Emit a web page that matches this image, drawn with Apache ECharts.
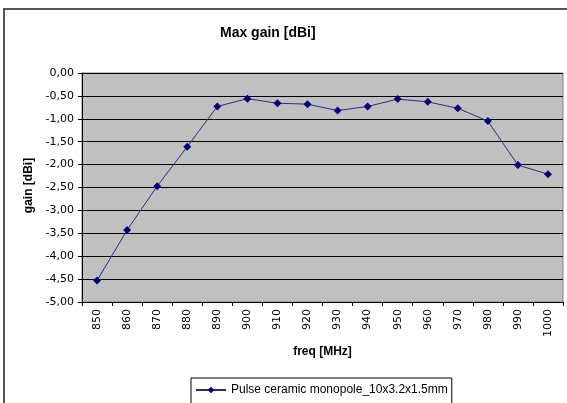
<!DOCTYPE html>
<html><head><meta charset="utf-8">
<script src="https://cdn.jsdelivr.net/npm/echarts@6/dist/echarts.min.js"></script>
<style>html,body{margin:0;padding:0;background:#fff}#c{width:567px;height:403px}</style>
</head><body><div id="c"></div>
<script>
const categories = ['850','860','870','880','890','900','910','920','930','940','950','960','970','980','990','1000'];
const gain = [-4.53,-3.43,-2.47,-1.61,-0.73,-0.56,-0.66,-0.68,-0.82,-0.73,-0.57,-0.63,-0.77,-1.05,-2.01,-2.21];
const seriesName = 'Pulse ceramic monopole_10x3.2x1.5mm';
const titleText = 'Max gain [dBi]';
const xName = 'freq [MHz]';
const yName = 'gain [dBi]';

const chart = echarts.init(document.getElementById('c'));
const F = 'Liberation Sans, Arial, sans-serif';
const FD = 'DejaVu Sans, sans-serif';
chart.setOption({
  animation:false,
  textStyle:{fontFamily:F},
  graphic:[{type:'rect',shape:{x:4,y:9,width:600,height:420},style:{fill:'none',stroke:'#555',lineWidth:2},z:-1}],
  title:{text:titleText,left:215,top:21,textStyle:{fontSize:14,fontWeight:'bold',color:'#000',fontFamily:F}},
  grid:{left:82,right:4,top:73,bottom:101,show:true,backgroundColor:'#c0c0c0',borderColor:'#808080',borderWidth:1},
  legend:{top:378,left:191,itemWidth:30,itemHeight:8,itemGap:4,borderColor:'#000',borderWidth:1,padding:[6,4,8,4],
    textStyle:{fontSize:12,color:'#000',fontFamily:F},data:[seriesName]},
  xAxis:{type:'category',data:categories,boundaryGap:true,name:xName,nameLocation:'middle',nameGap:44,
    nameTextStyle:{fontSize:12,fontWeight:'bold',color:'#000',fontFamily:F},
    axisLine:{onZero:false,lineStyle:{color:'#000'}},axisTick:{show:true,inside:false,length:4,lineStyle:{color:'#000'}},
    axisLabel:{rotate:90,fontSize:11,color:'#000',margin:7,fontFamily:FD}},
  yAxis:{type:'value',min:-5,max:0,interval:0.5,name:yName,nameLocation:'middle',nameGap:46,
    nameTextStyle:{fontSize:12,fontWeight:'bold',color:'#000',fontFamily:F,padding:[0,0,0,4]},
    axisLine:{show:true,lineStyle:{color:'#000'}},axisTick:{show:true,length:4,lineStyle:{color:'#000'}},
    axisLabel:{fontSize:11,color:'#000',margin:8,fontFamily:FD,formatter:v=>v.toFixed(2).replace('.',',')},
    splitLine:{lineStyle:{color:'#000',width:1}}},
  series:[{name:seriesName,type:'line',data:gain,symbol:'diamond',symbolSize:8,
    lineStyle:{color:'#2a2a8a',width:1},itemStyle:{color:'#00007a'}}]
});
</script></body></html>
